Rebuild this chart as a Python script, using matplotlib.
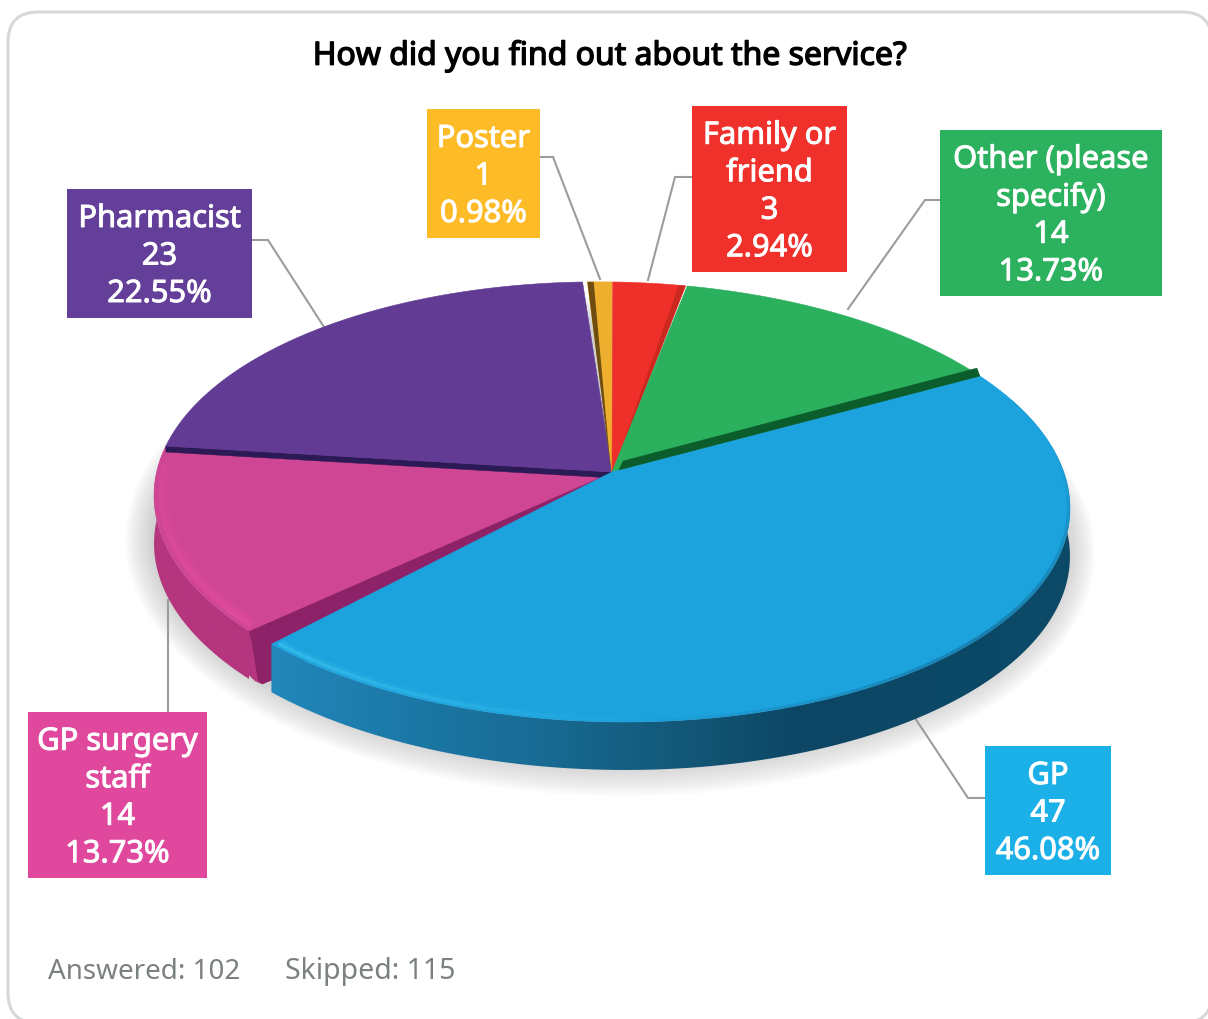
import numpy as np
import matplotlib
matplotlib.use("Agg")
import matplotlib.pyplot as plt
import matplotlib.patheffects as pe
from matplotlib.patches import Polygon, FancyBboxPatch, Rectangle
from matplotlib.collections import LineCollection
from matplotlib.colors import to_rgb

# ---- data ----
categories = ["Family or\nfriend", "Other (please\nspecify)", "GP", "GP surgery\nstaff", "Pharmacist", "Poster"]
counts = [3, 14, 47, 14, 23, 1]
percents = ["2.94%", "13.73%", "46.08%", "13.73%", "22.55%", "0.98%"]
title = "How did you find out about the service?"
footer_answered = "Answered: 102"
footer_skipped = "Skipped: 115"

# ---- style ----
face_colors = ["#ef2f29", "#2bb05d", "#1ca2dd", "#cf4695", "#623b95", "#eeae2e"]
box_colors = ["#f0302b", "#2cb25f", "#1bb0e8", "#e0489e", "#633f99", "#fdbb27"]
boxes = [(692, 106, 847, 272), (940, 130, 1162, 296), (985, 746, 1111, 875),
         (28, 712, 207, 878), (67, 189, 252, 318), (427, 109, 540, 238)]
leaders = [[(692, 177), (675, 177), (648, 280)],
           [(940, 200), (925, 200), (848, 309)],
           [(985, 798), (968, 798), (915, 718)],
           [(168, 712), (168, 600)],
           [(252, 240), (268, 240), (324, 327)],
           [(540, 157), (553, 157), (600, 279)]]
FONT = "Noto Sans"
APX, APY = 612.0, 472.0
A, B, K = 453.7, 215.9, 0.136
TILT = 0.014
DEPTH = 48.0

W, H = 1208, 1019
fig = plt.figure(figsize=(W / 100, H / 100), dpi=100)
ax = fig.add_axes([0, 0, 1, 1])


def proj(deg, r=1.0):
    t = np.radians(deg)
    u, v = r * np.sin(t), r * np.cos(t)
    d = 1 + K * v
    x = APX + A * u / d
    return np.column_stack([x, APY - B * v / d + TILT * (x - APX)])


def pt(deg):
    return proj(np.array([float(deg)]))[0]


def arc(a0, a1, r=1.0, n=None):
    n = n or max(3, int(abs(a1 - a0) * 2))
    return proj(np.linspace(a0, a1, n), r)


def wedge(a0, a1, color, z):
    pts = np.vstack([[APX, APY], arc(a0, a1)])
    ax.add_patch(Polygon(pts, closed=True, fc=color, ec=color, lw=0.4, zorder=z))


def strip(a, dy, color, z):
    p = pt(a)
    pts = [(APX, APY), p, (p[0], p[1] + dy), (APX, APY + dy)]
    ax.add_patch(Polygon(pts, closed=True, fc=color, ec=color, lw=0.3, zorder=z))


def side(a0, a1, xstops, z):
    """outer wall, a horizontal gradient clipped to the rim shape"""
    top = arc(a0, a1, n=200)
    bot = top[::-1] + [0, DEPTH]
    poly = Polygon(np.vstack([top, bot]), closed=True, fc="none", ec="none", transform=ax.transData)
    ax.add_patch(poly)
    xs = np.arange(0, W + 1, 2.0)
    sx = [s[0] for s in xstops]
    rgb = np.array([to_rgb(s[1]) for s in xstops])
    img = np.stack([np.interp(xs, sx, rgb[:, c]) for c in range(3)], axis=-1)[None, :, :]
    im = ax.imshow(img, extent=(0, W, 800, 400), aspect="auto", interpolation="bilinear", zorder=z)
    im.set_clip_path(poly)


def band(a0, a1, r, color, alpha0, alpha1, lw, z):
    angs = np.arange(a0, a1 + 0.5, 0.5)
    pts = proj(angs, r)
    segs = np.stack([pts[:-1], pts[1:]], axis=1)
    rgb = to_rgb(color)
    al = np.linspace(alpha0, alpha1, len(segs))
    cols = [(*rgb, x) for x in al]
    ax.add_collection(LineCollection(segs, colors=cols, linewidths=lw, capstyle="butt", zorder=z))


# frame
ax.add_patch(FancyBboxPatch((8, 12), 1204, 1011, boxstyle="round,pad=0,rounding_size=30",
                            fc="white", ec="#d6d9d9", lw=2.2, zorder=1))

# shadow
ts = np.linspace(0, 360, 240)
e = proj(ts)
mx, my = e[:, 0].mean(), e[:, 1].mean()
for i in range(14):
    sx = 1.0 + i * 0.0045
    sy = 1.0 + i * 0.0105
    sh = np.column_stack([APX - 2 + (e[:, 0] - mx) * sx, my + 42 + (e[:, 1] - my) * sy])
    ax.add_patch(Polygon(sh, closed=True, fc="#555555", ec="none", alpha=0.021, zorder=2))

# leaders
for pts in leaders:
    xs, ys = zip(*pts)
    ax.plot(xs, ys, color="#9b9d9d", lw=1.5, solid_joinstyle="miter", zorder=3)

# slice angles, clockwise from the top
total = sum(counts)
bounds = np.concatenate([[0], np.cumsum(counts)]) * 360.0 / total
keys = [c.split("\n")[0] for c in categories]
a = {k: (bounds[i], bounds[i + 1]) for i, k in enumerate(keys)}
col = dict(zip(keys, face_colors))
fam, oth, gp, sur, pha, pos = [a[k] for k in keys]

# GP surgery staff
side(sur[0] + 0.6, 274, [(0, "#b5357e"), (1208, "#b5357e")], 5)
p = pt(sur[0] + 0.6)
q = pt(gp[1])
ax.add_patch(Polygon([p + [0, DEPTH - 4], q + [3, DEPTH], q + [10, DEPTH + 3], q + [22, DEPTH - 2], (APX, APY + 6),
                      (APX, APY), p],
                     closed=True, fc="#b5357e", ec="#b5357e", lw=0.3, zorder=5.5))
ax.add_patch(Polygon([p, p + [3, 12], q + [6, DEPTH], q + [10, DEPTH + 3], q + [22, DEPTH - 2], (APX, APY + 6), (APX, APY)],
                     closed=True, fc="#8e2269", ec="#8e2269", lw=0.3, zorder=6))
wedge(sur[0] + 0.6, sur[1], col["GP surgery"], 7)
band(sur[0] + 1.5, 270, 0.978, "#df4a9e", 0.55, 0.15, 7, 8)
band(sur[0] + 1.5, 270, 0.985, "#e24ca1", 0.7, 0.25, 4, 8)

# Pharmacist
strip(pha[0], 6, "#2b1a55", 9)
wedge(pha[0], pha[1] - 0.7, col["Pharmacist"], 10)

# Poster
wedge(pos[0], pos[1], col["Poster"], 11)
p0 = pt(pos[0])
p1 = pt(pos[0] + 0.9)
ax.add_patch(Polygon([(APX - 1, APY), p0, p1], closed=True, fc="#6e4e10", ec="none", zorder=12))

# Family or friend
wedge(fam[0] + 0.1, fam[1], col["Family or"], 13)
p0 = pt(fam[1])
p1 = pt(fam[1] - 1.0)
ax.add_patch(Polygon([(APX + 1, APY), p0, p1], closed=True, fc="#cb2820", ec="none", zorder=14))

# Other
wedge(oth[0] + 0.25, oth[1], col["Other (please"], 15)

# GP
side(gp[0], gp[1] - 3.4, [(270, "#2388bb"), (400, "#1c79a8"), (550, "#186a92"),
                          (700, "#125574"), (800, "#0d4664"), (1070, "#0b4a68")], 17)
wedge(gp[0], gp[1] - 3.4, col["GP"], 18)
band(175, gp[1] - 3.9, 0.985, "#27b0e4", 0.0, 0.6, 6, 19)
band(175, gp[1] - 3.9, 0.988, "#35bbea", 0.0, 0.9, 2.5, 19)
band(gp[0] + 25, 130, 0.997, "#155f86", 0.0, 0.55, 2.5, 19)
band(130, 178, 0.997, "#155f86", 0.55, 0.0, 2.5, 19)

# strip between Other and GP lies on top of the green face
p = pt(oth[1])
ax.add_patch(Polygon([(APX + 7, APY - 2), p, p + [-3, -8], (APX + 11, APY - 11)],
                     closed=True, fc="#0b5d2c", ec="#0b5d2c", lw=0.3, zorder=20))

# labels
for name, n, pc, box, c in zip(categories, counts, percents, boxes, box_colors):
    x0, y0, x1, y1 = box
    ax.add_patch(Rectangle((x0, y0), x1 - x0, y1 - y0, fc=c, ec="none", zorder=30))
    lines = name.split("\n") + [str(n), pc]
    m = len(lines)
    ym = (y0 + y1) / 2
    for i, s in enumerate(lines):
        ax.text((x0 + x1) / 2, ym - 0.5 + (i - (m - 1) / 2) * 37.5, s, color="white", ha="center",
                va="center_baseline", fontsize=22.2, family=FONT, zorder=31,
                path_effects=[pe.withStroke(linewidth=0.7, foreground="white")])

ax.text(610, 56, title, ha="center", va="center", fontsize=23, family=FONT, color="black", zorder=31,
        path_effects=[pe.withStroke(linewidth=1.0, foreground="black")])
ax.text(48, 979, footer_answered, ha="left", va="baseline", fontsize=20, family=FONT, color="#7b8081", zorder=31)
ax.text(285, 979, footer_skipped, ha="left", va="baseline", fontsize=20.5, family=FONT, color="#7b8081", zorder=31)

ax.set_xlim(0, W)
ax.set_ylim(H, 0)
ax.set_aspect("auto")
ax.axis("off")
fig.savefig("out.png", dpi=100, facecolor="white")
